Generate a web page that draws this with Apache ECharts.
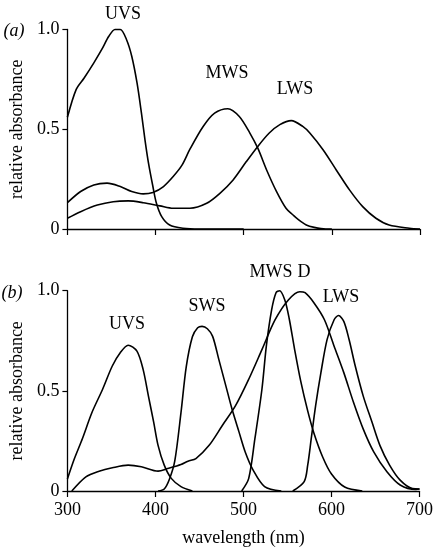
<!DOCTYPE html>
<html>
<head>
<meta charset="utf-8">
<script src="https://cdn.jsdelivr.net/npm/echarts@6/dist/echarts.min.js"></script>
<style>
html,body{margin:0;padding:0;background:#fff;}
#chart{width:436px;height:548px;}
</style>
</head>
<body>
<div id="chart"></div>
<script>
// ---- Panel (a) ----
var aUvsNm  = [300,310,319,330,339,347,354,360,367,373,379,384,388,392,397,401,407,416,431,450,500];
var aUvsAbs = [0.56,0.70,0.757,0.833,0.90,0.966,1.0,1.0,0.95,0.866,0.732,0.581,0.447,0.33,0.213,0.129,0.062,0.02,0.004,0,0];

var aMwsNm  = [300,315,330,345,360,373,386,397,409,420,430,439,454,467,482,495,507,516,526,537,548,556,560,571,580,593,600];
var aMwsAbs = [0.132,0.188,0.221,0.23,0.213,0.188,0.176,0.183,0.213,0.263,0.32,0.40,0.514,0.581,0.603,0.564,0.481,0.405,0.296,0.19,0.104,0.07,0.054,0.02,0.008,0,0];

var aLwsNm  = [300,315,334,352,369,386,405,420,439,458,473,488,503,516,529,541,554,567,575,590,605,620,635,650,665,688,700];
var aLwsAbs = [0.054,0.087,0.12,0.137,0.141,0.132,0.116,0.104,0.104,0.129,0.179,0.246,0.338,0.414,0.481,0.523,0.543,0.514,0.481,0.397,0.296,0.196,0.112,0.054,0.02,0.004,0];

// ---- Panel (b) ----
var bUvsNm  = [300,308,317,328,340,351,360,369,379,386,392,398,403,410,418,429,442];
var bUvsAbs = [0.06,0.162,0.261,0.393,0.508,0.624,0.69,0.728,0.698,0.607,0.475,0.344,0.228,0.129,0.063,0.022,0];

var bSwsNm  = [403,410,416,422,429,435,442,448,453,459,465,472,480,487,495,502,511,524,543];
var bSwsAbs = [0,0.01,0.06,0.15,0.39,0.62,0.77,0.815,0.822,0.81,0.772,0.657,0.525,0.409,0.294,0.195,0.104,0.022,0];

var bMwsNm  = [498,506,513,521,526,532,537,541,547,552,558,565,573,580,590,600,615,635];
var bMwsAbs = [0,0.063,0.261,0.508,0.723,0.904,0.99,1.0,0.954,0.86,0.71,0.55,0.40,0.29,0.17,0.085,0.02,0];

var bDNm  = [305,321,336,351,369,384,403,414,429,437,446,461,476,491,506,521,536,551,564,570,580,592,603,614,625,636,648,663,678,696,700];
var bDAbs = [0,0.071,0.099,0.116,0.129,0.121,0.099,0.112,0.132,0.149,0.162,0.228,0.327,0.426,0.558,0.706,0.855,0.954,0.995,0.99,0.94,0.855,0.723,0.591,0.443,0.31,0.195,0.096,0.03,0.008,0.01];

var bLwsNm  = [556,569,573,577,582,588,595,603,608,614,620,627,636,646,655,666,678,692,700];
var bLwsAbs = [0,0.047,0.129,0.261,0.426,0.591,0.756,0.855,0.876,0.847,0.756,0.624,0.475,0.344,0.228,0.129,0.054,0.012,0.01];

var xTicks = [300,400,500,600,700];
var yTicks = [0,0.5,1.0];
var yTickText = {"0":"0","0.5":"0.5","1":"1.0"};

function pairs(xs, ys){ return xs.map(function(x,i){ return [x, ys[i]]; }); }

var FONT = '"Liberation Serif", "Times New Roman", serif';
var black = '#000';

function mkX(gi, showLabel, name){
  return {
    gridIndex: gi, type:'value', min: xTicks[0], max: xTicks[xTicks.length-1], interval: 100,
    axisLine:{show:true, onZero:false, lineStyle:{color:black, width:1.3}},
    axisTick:{show:true, inside:false, length:6, lineStyle:{color:black, width:1.2}},
    axisLabel:{show:showLabel, color:black, fontFamily:FONT, fontSize:18, margin:10},
    splitLine:{show:false},
    name: name || '', nameLocation:'middle', nameGap:38,
    nameTextStyle:{color:black, fontFamily:FONT, fontSize:18}
  };
}
function mkY(gi){
  return {
    gridIndex: gi, type:'value', min: yTicks[0], max: yTicks[yTicks.length-1], interval: 0.5,
    axisLine:{show:true, lineStyle:{color:black, width:1.3}},
    axisTick:{show:true, inside:false, length:5, lineStyle:{color:black, width:1.2}},
    axisLabel:{show:true, color:black, fontFamily:FONT, fontSize:18, margin:8,
      formatter:function(v){ return yTickText[String(v)] || String(v); }},
    splitLine:{show:false},
    name:'relative absorbance', nameLocation:'middle', nameRotate:90, nameGap:36,
    nameTextStyle:{color:black, fontFamily:FONT, fontSize:18}
  };
}
function mkS(xi, data){
  return {
    type:'line', xAxisIndex:xi, yAxisIndex:xi, data:data, smooth:0.3,
    showSymbol:false, symbol:'none', clip:false,
    lineStyle:{color:black, width:1.6}, z:3, animation:false
  };
}
function txt(left, top, s, italic){
  return {type:'text', left:left, top:top,
    style:{text:s, fill:black, font:(italic?'italic ':'')+'18px '+FONT, textAlign:'center', textVerticalAlign:'middle'}};
}

var chart = echarts.init(document.getElementById('chart'), null, {renderer:'canvas'});
chart.setOption({
  animation:false,
  backgroundColor:'#fff',
  grid:[
    {left:66, right:16, top:29.5, height:199.5},
    {left:63, right:16, top:290.7, height:202}
  ],
  xAxis:[mkX(0,false), mkX(1,true,'wavelength (nm)')],
  yAxis:[mkY(0), mkY(1)],
  series:[
    mkS(0, pairs(aUvsNm, aUvsAbs)),
    mkS(0, pairs(aMwsNm, aMwsAbs)),
    mkS(0, pairs(aLwsNm, aLwsAbs)),
    mkS(1, pairs(bUvsNm, bUvsAbs)),
    mkS(1, pairs(bSwsNm, bSwsAbs)),
    mkS(1, pairs(bMwsNm, bMwsAbs)),
    mkS(1, pairs(bDNm, bDAbs)),
    mkS(1, pairs(bLwsNm, bLwsAbs))
  ],
  graphic:[
    {type:'text', x:14, y:31, style:{text:'(a)', fill:black, font:'italic 18px '+FONT, textAlign:'center', textVerticalAlign:'middle'}},
    {type:'text', x:12, y:293, style:{text:'(b)', fill:black, font:'italic 18px '+FONT, textAlign:'center', textVerticalAlign:'middle'}},
    {type:'text', x:123, y:14, style:{text:'UVS', fill:black, font:'18px '+FONT, textAlign:'center', textVerticalAlign:'middle'}},
    {type:'text', x:227, y:73, style:{text:'MWS', fill:black, font:'18px '+FONT, textAlign:'center', textVerticalAlign:'middle'}},
    {type:'text', x:295, y:89, style:{text:'LWS', fill:black, font:'18px '+FONT, textAlign:'center', textVerticalAlign:'middle'}},
    {type:'text', x:127, y:324, style:{text:'UVS', fill:black, font:'18px '+FONT, textAlign:'center', textVerticalAlign:'middle'}},
    {type:'text', x:207, y:306, style:{text:'SWS', fill:black, font:'18px '+FONT, textAlign:'center', textVerticalAlign:'middle'}},
    {type:'text', x:271, y:272, style:{text:'MWS', fill:black, font:'18px '+FONT, textAlign:'center', textVerticalAlign:'middle'}},
    {type:'text', x:304, y:272, style:{text:'D', fill:black, font:'18px '+FONT, textAlign:'center', textVerticalAlign:'middle'}},
    {type:'text', x:341, y:297, style:{text:'LWS', fill:black, font:'18px '+FONT, textAlign:'center', textVerticalAlign:'middle'}}
  ]
});
</script>
</body>
</html>
